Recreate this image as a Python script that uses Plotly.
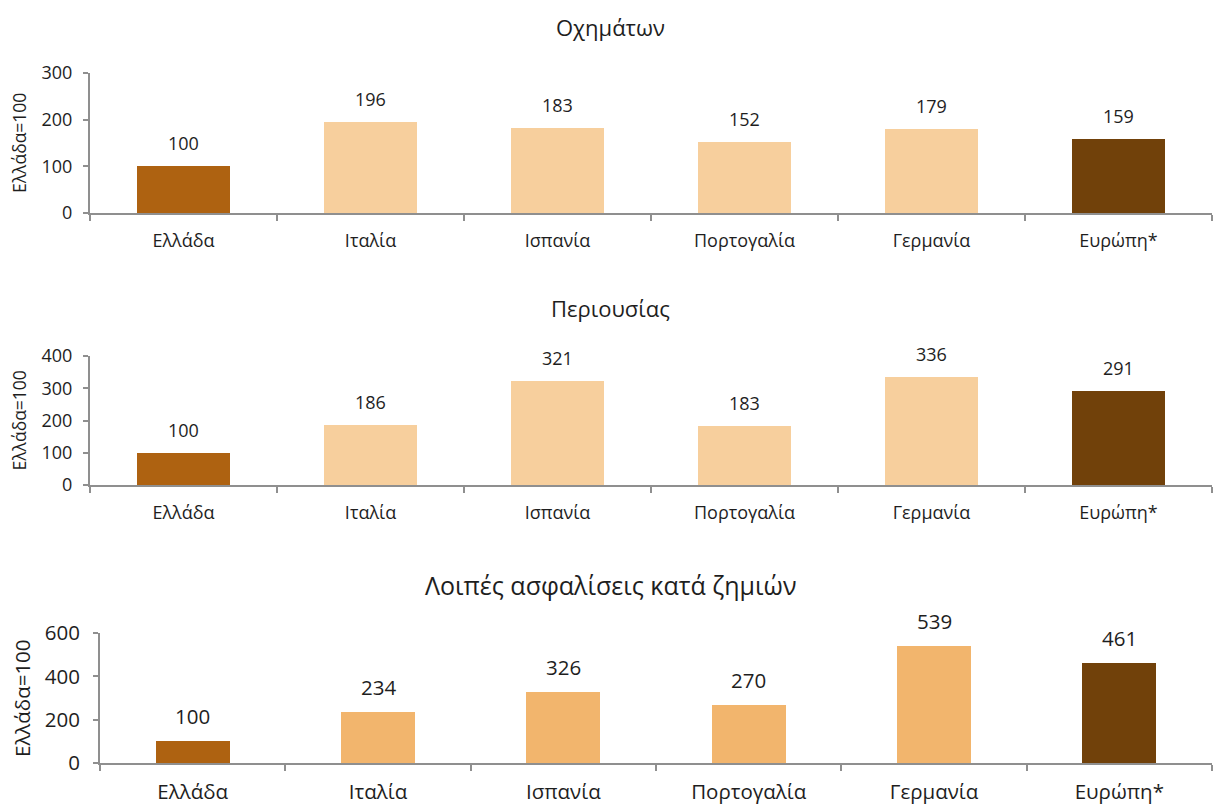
import plotly.graph_objects as go

# Δεδομένα: δείκτης ασφαλίστρων ανά κλάδο (Ελλάδα = 100)
countries = ["Ελλάδα", "Ιταλία", "Ισπανία", "Πορτογαλία", "Γερμανία", "Ευρώπη*"]
vehicles = [100, 196, 183, 152, 179, 159]
property_ = [100, 186, 321, 183, 336, 291]
other_nonlife = [100, 234, 326, 270, 539, 461]

titles = ["Οχημάτων", "Περιουσίας", "Λοιπές ασφαλίσεις κατά ζημιών"]
y_title = "Ελλάδα=100"
y_ranges = [[0, 300], [0, 400], [0, 600]]
y_dticks = [100, 100, 200]

GREECE = "#AE6211"
EUROPE = "#71410A"
LIGHT_12 = "#F7CF9D"
LIGHT_3 = "#F2B56D"
AXIS = "#8F8F8F"
TEXT = "#1E1E1E"
FONT = "Open Sans"

W, H = 1213, 806


def px_y(top, bottom):
    return [1 - bottom / H, 1 - top / H]


panels = [
    dict(vals=vehicles, light=LIGHT_12, top=73, bottom=213, x0=90, bw=0.5,
         fs=18, yfs=17.5, tfs=22, title_y=27, shift=23, ytx=19,
         xstand=10, ystand=7),
    dict(vals=property_, light=LIGHT_12, top=356, bottom=485, x0=90, bw=0.5,
         fs=18, yfs=17.5, tfs=22, title_y=308, shift=23, ytx=19,
         xstand=10, ystand=7),
    dict(vals=other_nonlife, light=LIGHT_3, top=633, bottom=763, x0=100, bw=0.4,
         fs=20.5, yfs=20.5, tfs=25, title_y=585, shift=25, ytx=22,
         xstand=9, ystand=9),
]

fig = go.Figure()
annotations = []

for i, p in enumerate(panels):
    n = "" if i == 0 else str(i + 1)
    colors = [GREECE] + [p["light"]] * (len(countries) - 2) + [EUROPE]
    fig.add_trace(go.Bar(
        x=countries, y=p["vals"], marker=dict(color=colors, line=dict(width=0)),
        width=p["bw"], xaxis="x" + n, yaxis="y" + n, showlegend=False,
        hoverinfo="x+y",
    ))
    # value labels above each bar
    for c, v in zip(countries, p["vals"]):
        annotations.append(dict(
            x=c, y=v, xref="x" + n, yref="y" + n, text=str(v), showarrow=False,
            yanchor="middle", yshift=p["shift"],
            font=dict(family=FONT, size=p["fs"], color=TEXT),
        ))
    # panel title
    annotations.append(dict(
        x=0.503, y=1 - p["title_y"] / H, xref="paper", yref="paper",
        text=titles[i], showarrow=False, xanchor="center", yanchor="middle",
        font=dict(family=FONT, size=p["tfs"], color=TEXT),
    ))
    # rotated y-axis title
    annotations.append(dict(
        x=p["ytx"] / W, y=1 - (p["top"] + p["bottom"]) / 2 / H,
        xref="paper", yref="paper", text=y_title, showarrow=False,
        textangle=-90, xanchor="center", yanchor="middle",
        font=dict(family=FONT, size=p["yfs"], color=TEXT),
    ))
    xdom = [p["x0"] / W, 1212 / W]
    fig.update_layout(**{
        "xaxis" + n: dict(
            domain=xdom, anchor="y" + n, type="category", range=[-0.5, 5.5],
            showline=True, linecolor=AXIS, linewidth=2, ticks="outside",
            tickson="boundaries", ticklen=6, tickcolor=AXIS, tickwidth=2,
            showgrid=False, zeroline=False, automargin=False,
            ticklabelstandoff=p["xstand"],
            tickfont=dict(family=FONT, size=p["fs"], color=TEXT),
        ),
        "yaxis" + n: dict(
            domain=px_y(p["top"], p["bottom"]), anchor="x" + n,
            range=y_ranges[i], dtick=y_dticks[i], tick0=0,
            showline=True, linecolor=AXIS, linewidth=2, ticks="outside",
            ticklen=5, tickcolor=AXIS, tickwidth=2,
            showgrid=False, zeroline=False, automargin=False,
            ticklabelstandoff=p["ystand"],
            tickfont=dict(family=FONT, size=p["fs"], color=TEXT),
        ),
    })

fig.update_layout(
    width=W, height=H, margin=dict(l=0, r=0, t=0, b=0),
    paper_bgcolor="white", plot_bgcolor="white",
    annotations=annotations, bargap=0,
    font=dict(family=FONT, color=TEXT),
)

fig.write_html("out.html")
